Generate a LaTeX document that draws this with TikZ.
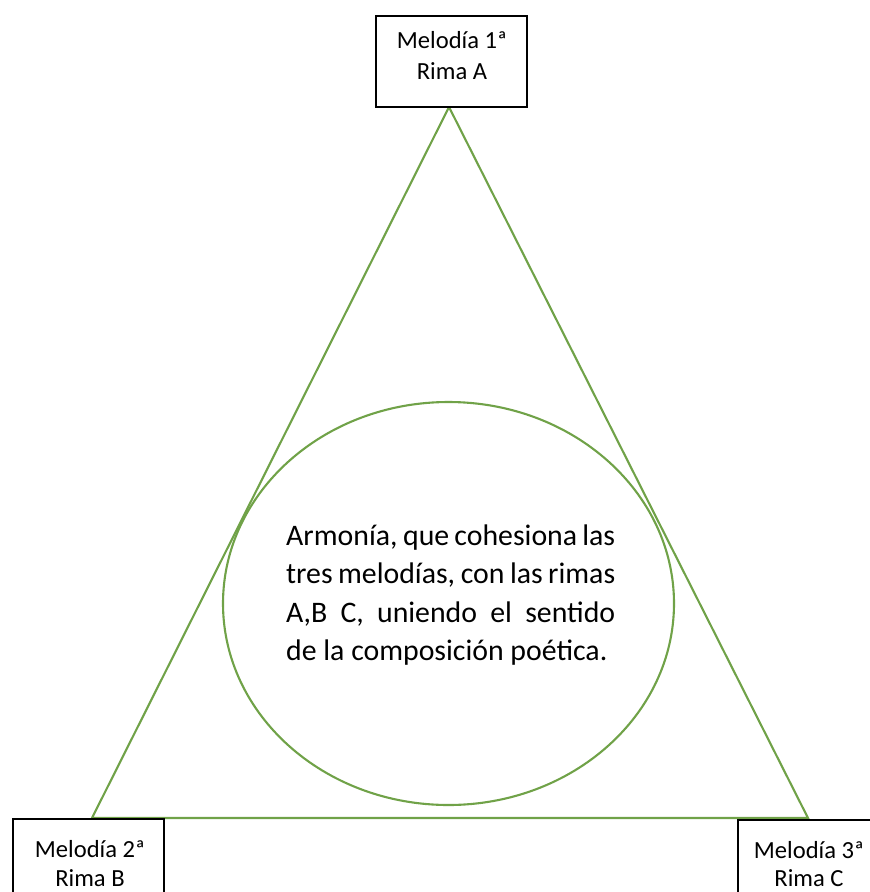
\documentclass[tikz,border=0pt]{standalone}
\usepackage{fontspec}
\setmainfont{Carlito}
\usetikzlibrary{shapes.geometric}
\definecolor{tri}{RGB}{112,162,72}
\begin{document}
\begin{tikzpicture}[x=1pt,y=-1pt,
  melbox/.style={draw=black,line width=2.4pt,fill=white,minimum width=151pt,inner sep=0pt},
  meltext/.style={inner sep=0pt,anchor=base},
  greenline/.style={draw=tri,line width=2.1pt,line join=miter}]
\useasboundingbox (0,0) rectangle (870,892);
\clip (0,0) rectangle (870,892);
\newcommand{\boxtxt}[3]{\parbox[t]{151pt}{\centering\fontsize{24.6}{#3}\selectfont #1\\#2}}
\coordinate (A) at (449,107);
\coordinate (B) at (92,818);
\coordinate (C) at (808,818);
\node[ellipse,greenline,minimum width=451pt,minimum height=403pt,inner sep=0pt] (arm) at (448.5,603.5) {};
\draw[greenline] (A) -- (B) -- (C) -- cycle;
\node[melbox,minimum height=91pt] (m1) at (451.5,61.5) {};
\node[melbox,minimum height=103pt] (m2) at (88.5,870.5) {};
\node[melbox,minimum height=103pt,anchor=north west] (m3) at (737,819) {};
\node[meltext] (m1t) at (452,48) {\boxtxt{Melodía 1ª}{Rima A}{31}};
\node[meltext] (m2t) at (90,857) {\boxtxt{Melodía 2ª}{Rima B}{29}};
\node[meltext] (m3t) at (809,858) {\boxtxt{Melodía 3ª}{Rima C}{28.5}};
\node[inner sep=0pt,anchor=base west] (txt) at (286,545) {\parbox[t]{329pt}{\fontsize{29.8}{38.5}\selectfont
\makebox[329pt][s]{Armonía, que cohesiona las}\\
\makebox[329pt][s]{tres melodías, con las rimas}\\
\makebox[329pt][s]{A,B C, uniendo el sentido}\\
de la composición poética.}};
\end{tikzpicture}
\end{document}
